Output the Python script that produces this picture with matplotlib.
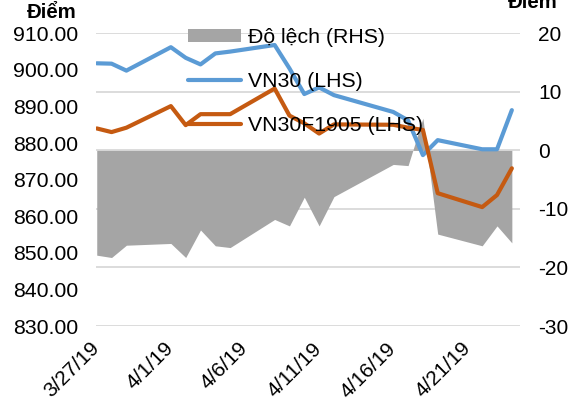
import matplotlib
matplotlib.use('Agg')
import matplotlib.pyplot as plt
import matplotlib.dates as mdates
import numpy as np
import pandas as pd

plt.rcParams['font.family'] = ['Liberation Sans', 'DejaVu Sans']

# data
dates = ['2019-03-27', '2019-03-28', '2019-03-29', '2019-04-01', '2019-04-02',
         '2019-04-03', '2019-04-04', '2019-04-05', '2019-04-08', '2019-04-09',
         '2019-04-10', '2019-04-11', '2019-04-12', '2019-04-16', '2019-04-17',
         '2019-04-18', '2019-04-19', '2019-04-22', '2019-04-23', '2019-04-24']
vn30 = [901.8, 901.7, 899.8, 906.2, 903.3, 901.5, 904.5, 905.0, 906.8, 900.4,
        893.4, 895.2, 893.1, 888.5, 886.2, 876.7, 880.8, 878.3, 878.3, 889.0]
vn30f = [884.0, 883.0, 884.2, 890.1, 884.9, 887.9, 887.9, 887.9, 894.9, 887.5,
         885.4, 882.6, 885.1, 885.0, 884.2, 883.6, 866.3, 862.5, 865.8, 873.1]
dolech = [-17.9, -18.3, -16.2, -15.9, -18.3, -13.6, -16.3, -16.6, -11.8, -12.9,
          -8.0, -12.9, -7.9, -2.4, -2.6, 5.5, -14.3, -16.3, -12.9, -15.8]

tick_dates = ['2019-03-27', '2019-04-01', '2019-04-06', '2019-04-11', '2019-04-16', '2019-04-21']
tick_labels = ['3/27/19', '4/1/19', '4/6/19', '4/11/19', '4/16/19', '4/21/19']
left_ticks = [830, 840, 850, 860, 870, 880, 890, 900, 910]
right_ticks = [-30, -20, -10, 0, 10, 20]

x = mdates.date2num(pd.to_datetime(dates))
xt = mdates.date2num(pd.to_datetime(tick_dates))

blue = '#5B9BD5'
orange = '#C55A11'
grey = '#A5A5A5'

fig = plt.figure(figsize=(5.75, 4.03), dpi=100)
ax = fig.add_axes([96/575, 1-326/403, 424/575, 292.7/403])
ax2 = ax.twinx()

# area (RHS) on the bottom axes
ax.fill_between(x, 0, dolech, color=grey, lw=0, zorder=2, label='Độ lệch (RHS)')
ax.set_ylim(-30, 20)
ax.set_yticks(right_ticks)
ax.set_yticklabels([str(t) for t in right_ticks])
ax.yaxis.tick_right()
ax.grid(axis='y', color='#D9D9D9', lw=1.3, zorder=0)
ax.set_axisbelow(True)

ax2.plot(x, vn30, color=blue, lw=3, solid_capstyle='round', label='VN30 (LHS)')
ax2.plot(x, vn30f, color=orange, lw=3, solid_capstyle='round', label='VN30F1905 (LHS)')
ax2.set_ylim(830, 910)
ax2.set_yticks(left_ticks)
ax2.set_yticklabels(['%.2f' % t for t in left_ticks])
ax2.yaxis.tick_left()

ax.set_xlim(x[0] - 0.05, x[-1] + 0.55)
ax.set_xticks(xt)
ax.set_xticklabels(tick_labels, rotation=45, ha='right', va='center', rotation_mode='anchor')

for a in (ax, ax2):
    for s in a.spines.values():
        s.set_visible(False)
ax.tick_params(axis='both', length=0, labelsize=15, pad=13)
ax.tick_params(axis='x', pad=14)
ax2.tick_params(axis='both', length=0, labelsize=15.3, pad=13)
ax2.tick_params(axis='x', bottom=False, labelbottom=False)

h1, l1 = ax.get_legend_handles_labels()
h2, l2 = ax2.get_legend_handles_labels()
ax2.legend(h1 + h2, l1 + l2, loc='upper left', bbox_to_anchor=(188/575, 1-28/403),
           bbox_transform=fig.transFigure, frameon=False, fontsize=15.3,
           handlelength=2.5, handleheight=0.55, handletextpad=0.3,
           labelspacing=1.18, borderpad=0, borderaxespad=0)

fig.text(77/575, 1-17.7/403, 'Điểm', ha='right', va='baseline', fontsize=14.7, fontweight='bold')
fig.text(558/575, 1-8/403, 'Điểm', ha='right', va='baseline', fontsize=14.7, fontweight='bold')

fig.savefig('out.png', dpi=100)
